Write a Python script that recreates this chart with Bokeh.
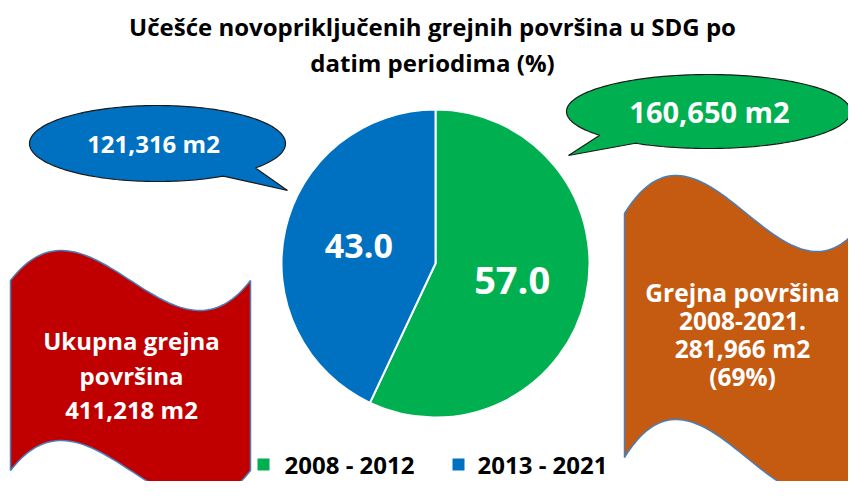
import numpy as np
from bokeh.plotting import figure
from bokeh.models import Range1d, ColumnDataSource
from bokeh.core.properties import value
from bokeh.embed import file_html
from bokeh.resources import INLINE

# ---------------- data ----------------
periods = ["2008 - 2012", "2013 - 2021"]
shares = [57.0, 43.0]
colors = ["#00B050", "#0070C0"]
period_areas = ["160,650 m2", "121,316 m2"]
title_lines = ["Učešće novopriključenih grejnih površina u SDG po", "datim periodima (%)"]
total_lines = ["Ukupna grejna", "površina", "411,218 m2"]
subtotal_lines = ["Grejna površina", "2008-2021.", "281,966 m2", "(69%)"]

FONT = value("Open Sans")
W, H = 848, 481
IMG_H = 497


def Y(v):
    return IMG_H - np.asarray(v, dtype=float)


p = figure(width=W, height=H, x_range=Range1d(0, W), y_range=Range1d(IMG_H - H, IMG_H),
           output_backend="svg", toolbar_location=None, min_border=0,
           x_axis_location=None, y_axis_location=None)
p.grid.visible = False
p.outline_line_color = None
p.background_fill_color = "white"


def txt(x, y, t, size, color="white", align="center", baseline="middle", style="bold"):
    p.text(x=[x], y=[IMG_H - y], text=[t], text_font=FONT, text_font_size=f"{size}px",
           text_font_style=style, text_color=color, text_align=align, text_baseline=baseline)


# ---------------- title ----------------
for i, line in enumerate(title_lines):
    txt(432, 26 + 36 * i, line, 24, color="black")

# ---------------- wave banners ----------------
def bez(p0, p1, p2, p3, n=80):
    t = np.linspace(0, 1, n)[:, None]
    return ((1 - t) ** 3) * p0 + 3 * (1 - t) ** 2 * t * p1 + 3 * (1 - t) * t ** 2 * p2 + t ** 3 * p3


def wave(x0, x1, yt, yb, amp):
    hc = amp / 0.2887
    w = x1 - x0
    top = bez(np.array([x0, yt]), np.array([x0 + w / 3, yt - hc]),
              np.array([x0 + 2 * w / 3, yt + hc]), np.array([x1, yt]))
    bot = bez(np.array([x0, yb]), np.array([x0 + w / 3, yb - hc]),
              np.array([x0 + 2 * w / 3, yb + hc]), np.array([x1, yb]))[::-1]
    pts = np.vstack([top, bot])
    return pts[:, 0], Y(pts[:, 1])


OUTLINE = "#4A7EBB"
xs, ys = wave(10, 250, 280, 470, 30)
p.patch(xs, ys, fill_color="#C00000", line_color=OUTLINE, line_width=1.5)
xs, ys = wave(624, 868, 213, 457, 38)
p.patch(xs, ys, fill_color="#C55A11", line_color=OUTLINE, line_width=1.5)

for i, line in enumerate(total_lines):
    txt(131, 340 + 34.5 * i, line, 24)
for i, line in enumerate(subtotal_lines):
    txt(742, 292 + 28 * i, line, 24.5)

# ---------------- callout bubbles ----------------
def callout(cx, cy, a, b, t1, t2, tip):
    ang = np.radians(np.linspace(t2, t1 + 360, 200))
    px = list(cx + a * np.cos(ang)) + [tip[0]]
    py = list(cy + b * np.sin(ang)) + [tip[1]]
    return px, list(Y(py))


bx, by = callout(157, 143, 128, 38, 40, 59, (287, 190))
p.patch(bx, by, fill_color=colors[1], line_color="#1a1a1a", line_width=1.2)
gx, gy = callout(708, 111, 142, 37, 121, 140, (568, 155))
p.patch(gx, gy, fill_color=colors[0], line_color="#1a1a1a", line_width=1.2)

txt(153, 143, period_areas[1], 24)
txt(709, 111, period_areas[0], 29)

# ---------------- pie ----------------
CX, CY, R = 435, 263, 154
fr = np.array(shares) / sum(shares)
cum = np.cumsum(fr)
start = np.radians(90 - 360 * cum)
end = np.radians(90 - 360 * np.concatenate([[0], cum[:-1]]))
src = ColumnDataSource(dict(start=start, end=end, color=colors, period=periods))
p.wedge(x=CX, y=IMG_H - CY, radius=R, start_angle="start", end_angle="end",
        fill_color="color", line_color="white", line_width=2, source=src)

mid = (start + end) / 2
lab_r = 0.51 * R
lab_sizes = [38, 34]
for i, v in enumerate(shares):
    lx = CX + lab_r * np.cos(mid[i])
    ly = (IMG_H - CY) + lab_r * np.sin(mid[i])
    p.text(x=[lx], y=[ly], text=[f"{v:.1f}"], text_font=FONT, text_font_size=f"{lab_sizes[i]}px",
           text_font_style="bold", text_color="white", text_align="center", text_baseline="middle")

# ---------------- legend ----------------
leg_sq_x = [263, 458]
leg_tx_x = [284, 477]
LEG_Y = 464
p.scatter(x=leg_sq_x, y=[IMG_H - LEG_Y] * 2, marker="square", size=12, fill_color=colors, line_color=None)
for i, lab in enumerate(periods):
    txt(leg_tx_x[i], LEG_Y, lab, 24, color="black", align="left")

open("out.html", "w").write(file_html(p, INLINE))
